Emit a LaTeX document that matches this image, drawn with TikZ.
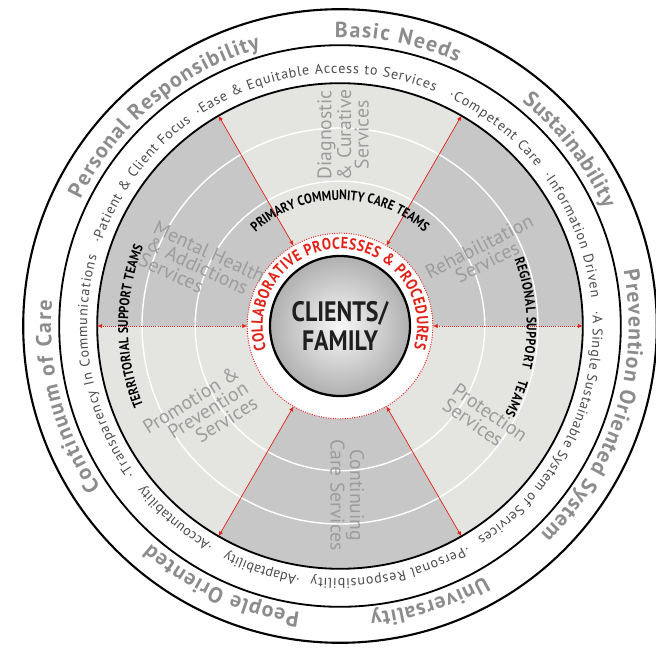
\documentclass[tikz,border=0pt]{standalone}
\usepackage{fontspec}
\usepackage{tikz}
\usepackage{xcolor}
\usetikzlibrary{
    arrows.meta,
    decorations.text
}
\setmainfont{PT Sans}
\newfontfamily\narrowfont[FakeStretch=0.85]{PT Sans}

\definecolor{ringgray}{HTML}{8C8C8C}
\definecolor{valuegray}{HTML}{4A4A4A}
\definecolor{lightsector}{HTML}{E4E4E1}
\definecolor{darksector}{HTML}{C7C7C7}
\definecolor{servicegray}{HTML}{9C9C9C}
\definecolor{collabred}{HTML}{E2231A}

\newcommand{\bigwordfont}{\fontsize{15.5}{15.5}\selectfont\bfseries\color{ringgray}}
\newcommand{\valuefont}{\fontsize{10}{10}\selectfont\color{valuegray}}
\newcommand{\teamfont}{\fontsize{9.8}{9.8}\selectfont\narrowfont\bfseries\color{black}}
\newcommand{\collabfont}{\fontsize{11.5}{11.5}\selectfont\narrowfont\bfseries\color{collabred}}

% radius, start angle, end angle, format, text (clockwise, tops outward)
\newcommand{\arclabel}[5]{%
    \path[decorate, decoration={text along path, text align=fit to path, text={|#4|#5}}]
    (#2:#1) arc[start angle=#2, end angle=#3, radius=#1];
}

\begin{document}
\begin{tikzpicture}[
    service/.style={text=servicegray, font=\fontsize{14}{12.5}\selectfont, inner sep=0pt},
    link/.style={collabred, line width=0.5pt, {Latex[length=3.5pt, width=3pt]}-{Latex[length=3.5pt, width=3pt]}},
    ring/.style={draw=black, line width=1.3pt}
]
    \useasboundingbox (-8.5, -8.075) rectangle (7.9, 8.15);

    % outer rings
    \draw[ring, line width=1.5pt] (0, 0) circle (7.92);
    \draw[ring] (0, 0) circle (7.02);

    % sectors
    \fill[lightsector] (0, 0) circle (6.07);
    \fill[darksector] (0, 0) -- (0:6.07) arc[start angle=0, end angle=60, radius=6.07] -- cycle;
    \fill[darksector] (0, 0) -- (120:6.07) arc[start angle=120, end angle=180, radius=6.07] -- cycle;
    \fill[darksector] (0, 0) -- (240:6.07) arc[start angle=240, end angle=300, radius=6.07] -- cycle;
    \draw[white, line width=1pt] (0, 0) circle (4.95) (0, 0) circle (3.62);
    \draw[ring] (0, 0) circle (6.07);

    % collaborative ring
    \fill[white] (0, 0) circle (2.32);
    \draw[collabred, densely dotted, line width=0.7pt] (0, 0) circle (2.32);

    \coordinate (in-0) at (0:2.32);     \coordinate (out-0) at (0:6.07);
    \coordinate (in-60) at (60:2.32);   \coordinate (out-60) at (60:6.07);
    \coordinate (in-120) at (120:2.32); \coordinate (out-120) at (120:6.07);
    \coordinate (in-180) at (180:2.32); \coordinate (out-180) at (180:6.07);
    \coordinate (in-240) at (240:2.32); \coordinate (out-240) at (240:6.07);
    \coordinate (in-300) at (300:2.32); \coordinate (out-300) at (300:6.07);
    \draw[link, densely dotted] (in-0) -- (out-0);
    \draw[link] (in-60) -- (out-60);
    \draw[link] (in-120) -- (out-120);
    \draw[link, densely dotted] (in-180) -- (out-180);
    \draw[link] (in-240) -- (out-240);
    \draw[link] (in-300) -- (out-300);

    \node (clients) [circle, draw=black, line width=1.6pt, minimum size=3.5cm,
        inner color=gray!6, outer color=gray!62, text=black!88, align=center,
        font=\fontsize{20}{20}\selectfont\narrowfont\bfseries] at (0, 0) {CLIENTS/\\FAMILY};

    \arclabel{1.93}{198}{-17}{\collabfont}{COLLABORATIVE PROCESSES {\&} PROCEDURES}

    % team labels
    \arclabel{3.15}{132}{48}{\teamfont}{PRIMARY COMMUNITY CARE TEAMS}
    \arclabel{5.3}{202}{158}{\teamfont}{TERRITORIAL SUPPORT TEAMS}
    \arclabel{4.67}{21}{-28}{\teamfont}{REGIONAL SUPPORT{\hspace{5pt}} TEAMS}

    % services
    \node (diagnostic) [service, rotate=90, align=center] at (0.08, 4.78) {Diagnostic\\\& Curative\\Services};
    \node (mental) [service, rotate=-25, align=left] at (-3.45, 1.45) {Mental Health\\\& Addictions\\Services};
    \node (rehab) [service, rotate=27, align=center] at (3.58, 1.8) {Rehabilitation\\Services};
    \node (promotion) [service, rotate=32, align=right] at (-3.5, -2.23) {Promotion \&\\Prevention\\Services};
    \node (protection) [service, rotate=-35, align=left] at (3.63, -2.35) {Protection\\Services};
    \node (continuing) [service, rotate=-90, align=center] at (0.18, -4.23) {Continuing\\Care Services};

    % values
    \arclabel{6.32}{161}{126}{\valuefont}{·Patient {\&} Client Focus}
    \arclabel{6.32}{124}{68}{\valuefont}{·Ease {\&} Equitable Access to Services}
    \arclabel{6.32}{64.6}{39}{\valuefont}{·Competent Care}
    \arclabel{6.32}{36.5}{6.3}{\valuefont}{·Information Driven}
    \arclabel{6.32}{3.4}{-57}{\valuefont}{·A Single Sustainable System of Services}
    \arclabel{6.32}{-60}{-96.6}{\valuefont}{·Personal Responsibility}
    \arclabel{6.32}{-99}{-116.7}{\valuefont}{·Adaptability}
    \arclabel{6.32}{-120}{-141}{\valuefont}{·Accountability}
    \arclabel{6.32}{-144}{-196}{\valuefont}{·Transparency In Communications}

    % principles
    \arclabel{7.22}{154}{106}{\bigwordfont}{Personal Responsibility}
    \arclabel{7.22}{91}{66}{\bigwordfont}{Basic Needs}
    \arclabel{7.22}{51}{24}{\bigwordfont}{Sustainability}
    \arclabel{7.22}{11}{-46}{\bigwordfont}{Prevention Oriented System}
    \arclabel{7.22}{-60}{-84}{\bigwordfont}{Universality}
    \arclabel{7.22}{-98}{-131}{\bigwordfont}{People Oriented}
    \arclabel{7.22}{214}{175}{\bigwordfont}{Continuum of Care}
\end{tikzpicture}
\end{document}
